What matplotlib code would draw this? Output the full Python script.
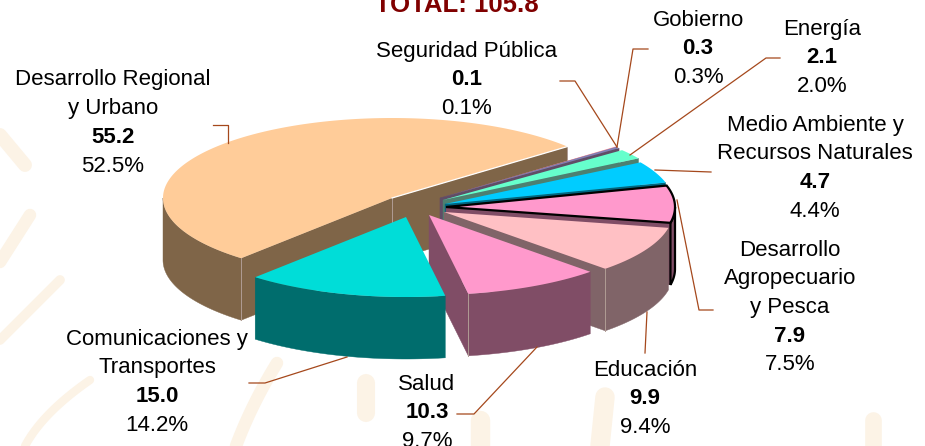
import numpy as np
import matplotlib
matplotlib.use("Agg")
import matplotlib.pyplot as plt
from matplotlib.patches import Polygon

plt.rcParams['font.family'] = ['Liberation Sans', 'DejaVu Sans']

# Data
categories = ["Desarrollo Regional\ny Urbano", "Comunicaciones y\nTransportes", "Salud", "Educación",
              "Desarrollo\nAgropecuario\ny Pesca", "Medio Ambiente y\nRecursos Naturales", "Energía",
              "Gobierno", "Seguridad Pública"]
amounts = [55.2, 15.0, 10.3, 9.9, 7.9, 4.7, 2.1, 0.3, 0.1]
percents = [52.5, 14.2, 9.7, 9.4, 7.5, 4.4, 2.0, 0.3, 0.1]
total = 105.8

# Look of the slices, same order as the data
top_colors = ["#FFCC99", "#00DDD8", "#FF99CC", "#FFC0C4", "#FF99CC", "#00CCFF", "#66FFCC", "#8080B8", "#FF99AA"]
side_colors = ["#7F6548", "#006D6D", "#804D66", "#806468", "#804D66", "#006680", "#4D8070", "#604D66", "#804D55"]
apexes = [(392, 198), (406, 217), (429, 215), (444, 212), (446, 207), (445, 204), (443, 200), (440, 198), (440, 198)]
draw_order = [0, 8, 7, 6, 5, 4, 3, 2, 1]
outlined = [4]
seamed = [0, 2, 3]

RX, RY, DEPTH = 229, 80, 62
START_ANGLE = 40
LEADER = "#A5481C"
SEAM = "#B09C94"

# text x, first line y, leader points
label_x = [113, 157, 427, 645, 790, 815, 822, 698, 467]
label_y = [80, 339, 384, 370, 250, 125, 29, 20, 51]
leaders = [
    [(213, 125), (228, 125), (228, 143)], [(249, 383), (265, 383), (347, 357)], [(457, 414), (474, 414), (537, 347)],
    [(645, 353), (647, 312)], [(713, 310), (699, 310), (677, 200)], [(711, 172), (655, 170)],
    [(780, 58), (766, 58), (630, 155)], [(648, 49), (633, 49), (617, 147)], [(560, 81), (575, 81), (617, 147)],
]


def arc(apex, a, b):
    """Points along the rim of the slice between two angles (degrees)."""
    t = np.radians(np.linspace(a, b, max(int(abs(b - a)) * 2, 2)))
    return np.column_stack([apex[0] + RX * np.cos(t), apex[1] - RY * np.sin(t)])


def draw_slice(ax, i, a, b, z):
    apex = np.array(apexes[i], float)
    down = np.array([0, DEPTH])
    edge = "black" if i in outlined else "none"
    lw = 1.6 if i in outlined else 0
    rim = arc(apex, a, b)

    # radial walls that face the viewer
    for end, normal in ((rim[0], a - 90), (rim[-1], b + 90)):
        if np.sin(np.radians(normal)) < 0:
            ax.add_patch(Polygon([apex, end, end + down, apex + down], fc=side_colors[i], ec=side_colors[i],
                                 lw=0.3, zorder=z))
            if i in seamed:
                ax.plot([end[0], end[0]], [end[1], end[1] + DEPTH], color=SEAM, lw=0.7, zorder=z + 0.02)

    # outer wall, only the part below the equator of the ellipse
    for lo, hi in ((180, 360), (540, 720)):
        s, e = max(a, lo), min(b, hi)
        if e > s:
            front = arc(apex, s, e)
            ax.add_patch(Polygon(np.vstack([front, (front + down)[::-1]]), fc=side_colors[i],
                                 ec=edge if i in outlined else side_colors[i], lw=lw or 0.3, zorder=z + 0.01))

    if i == 0:
        ax.plot([apex[0], apex[0]], [apex[1], apex[1] + DEPTH], color=SEAM, lw=0.7, zorder=z + 0.02)

    ax.add_patch(Polygon(np.vstack([apex, rim]), fc=top_colors[i], ec=edge, lw=lw, zorder=z + 0.03))
    if i == 0:
        ax.plot([apex[0], rim[0][0]], [apex[1], rim[0][1]], color="white", lw=0.9, zorder=z + 0.04)


def draw_background(ax):
    # faint watermark behind the chart
    t = np.linspace(0, 1, 60)
    strokes = [
        (0, 135, 25, 0, -30, 10), (0, 262, 30, 0, 47, 9), (236, 446, 41, -10, 83, 9),
        (366, 413, 0, 0, 30, 13), (480, 446, 0, 0, 26, 14), (600, 446, 5, 0, 49, 14),
        (873, 446, 0, 0, 26, 12), (25, 446, 65, -30, 66, 6), (0, 340, 60, 0, 60, 7),
    ]
    for x0, y0, dx, bend, dy, w in strokes:
        x = x0 + dx * t + bend * t * (1 - t)
        y = y0 - dy * t
        ax.plot(x, y, color="#FCF3E6", lw=w, solid_capstyle="round", zorder=0)


def main():
    fig = plt.figure(figsize=(9.25, 4.46), dpi=100)
    ax = fig.add_axes([0, 0, 1, 1])
    ax.set_xlim(0, 925)
    ax.set_ylim(446, 0)
    ax.axis("off")

    draw_background(ax)

    ax.text(457, 5, f"TOTAL: {total}", color="#800000", fontsize=18.5, fontweight="bold", ha="center", va="center")

    # slices run counter-clockwise from the start angle
    scale = 360 / sum(percents)
    edges = START_ANGLE + np.cumsum([0] + percents) * scale
    for n, i in enumerate(draw_order):
        draw_slice(ax, i, edges[i], edges[i + 1], 1 + n * 0.1)

    for pts in leaders:
        xs, ys = zip(*pts)
        ax.plot(xs, ys, color=LEADER, lw=0.9, zorder=5)

    line_h = 28.7
    fs = 16
    for i, name in enumerate(categories):
        y = label_y[i]
        for part in name.split("\n"):
            ax.text(label_x[i], y, part, ha="center", va="center", fontsize=fs, color="black", zorder=6)
            y += line_h
        ax.text(label_x[i], y, f"{amounts[i]:.1f}", ha="center", va="center", fontsize=fs, fontweight="bold", zorder=6)
        y += line_h
        ax.text(label_x[i], y, f"{percents[i]:.1f}%", ha="center", va="center", fontsize=fs, zorder=6)

    fig.savefig("out.png", dpi=100)


if __name__ == "__main__":
    main()
